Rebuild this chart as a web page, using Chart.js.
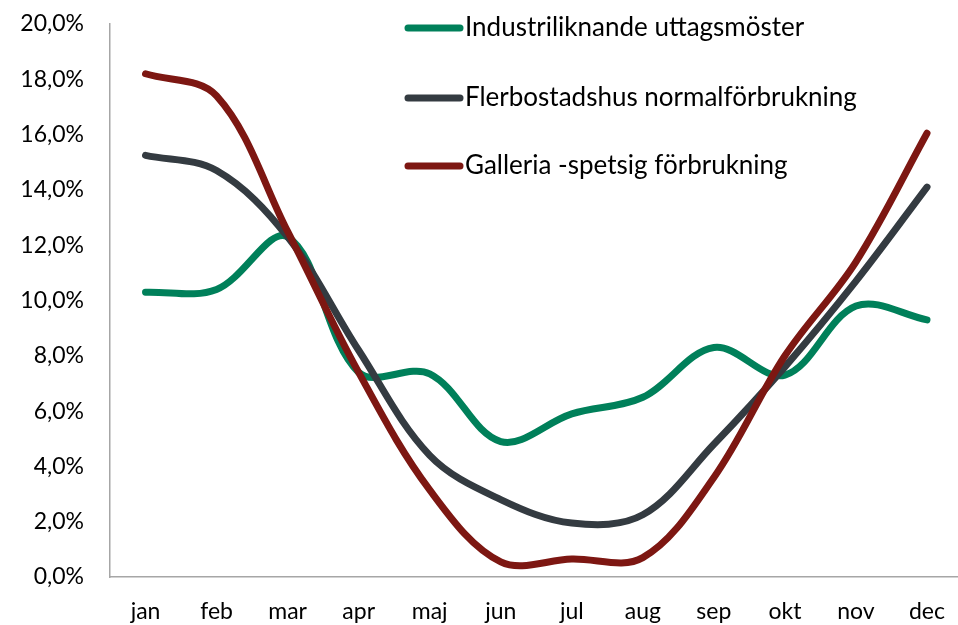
<!DOCTYPE html>
<html>
<head>
<meta charset="utf-8">
<script src="https://cdn.jsdelivr.net/npm/chart.js@4"></script>
<style>
    body { margin: 0; background: #fff; overflow: hidden; }
    #wrap { width: 966px; height: 625px; }
</style>
</head>
<body>
<div id="wrap"><canvas id="chart"></canvas></div>
<script>
const months = ['jan', 'feb', 'mar', 'apr', 'maj', 'jun', 'jul', 'aug', 'sep', 'okt', 'nov', 'dec'];
const industri = [10.3, 10.4, 12.3, 7.4, 7.35, 4.9, 5.9, 6.5, 8.3, 7.3, 9.8, 9.3];
const flerbostad = [15.25, 14.7, 12.3, 8.2, 4.4, 2.8, 1.95, 2.25, 4.8, 7.6, 10.7, 14.1];
const galleria = [18.2, 17.4, 12.5, 7.4, 3.15, 0.55, 0.65, 0.7, 3.6, 8.0, 11.4, 16.05];
const seriesNames = ['Industriliknande uttagsmöster', 'Flerbostadshus normalförbrukning', 'Galleria -spetsig förbrukning'];
const colors = ['#00805a', '#343b41', '#7d1712'];

const FONT = 'Lato, "Open Sans", sans-serif';

// legend drawn in the upper right like the original
const sideLegend = {
    id: 'sideLegend',
    afterDraw(c) {
        const ctx = c.ctx;
        const rows = [28, 98, 166];
        ctx.save();
        ctx.font = '26px ' + FONT;
        ctx.textBaseline = 'middle';
        ctx.fillStyle = '#000';
        ctx.lineCap = 'round';
        ctx.lineWidth = 7;
        seriesNames.forEach((name, i) => {
            ctx.strokeStyle = colors[i];
            ctx.beginPath();
            ctx.moveTo(408, rows[i]);
            ctx.lineTo(460, rows[i]);
            ctx.stroke();
            ctx.fillText(name, 465, rows[i]);
        });
        ctx.restore();
    }
};

function makeSet(label, data, i) {
    return {
        label: label,
        data: data,
        borderColor: colors[i],
        backgroundColor: colors[i],
        borderWidth: 7,
        borderCapStyle: 'round',
        pointRadius: 0,
        tension: 0.35,
        fill: false,
        order: 2 - i
    };
}

new Chart(document.getElementById('chart'), {
    type: 'line',
    data: {
        labels: months,
        datasets: [
            makeSet(seriesNames[0], industri, 0),
            makeSet(seriesNames[1], flerbostad, 1),
            makeSet(seriesNames[2], galleria, 2)
        ]
    },
    options: {
        responsive: true,
        maintainAspectRatio: false,
        animation: false,
        layout: { autoPadding: false, padding: 0 },
        plugins: {
            legend: { display: false },
            tooltip: { enabled: false }
        },
        scales: {
            x: {
                offset: true,
                grid: { display: false, drawTicks: false },
                border: { color: '#a6a6a6', width: 1.5 },
                ticks: { color: '#000', font: { family: FONT, size: 23 }, padding: 21, maxRotation: 0 },
                afterFit(s) { s.height = 48; }
            },
            y: {
                min: 0,
                max: 20,
                grid: { display: false, drawTicks: false },
                border: { color: '#a6a6a6', width: 1.5 },
                ticks: {
                    stepSize: 2,
                    color: '#000',
                    font: { family: FONT, size: 23 },
                    padding: 26,
                    callback: v => v.toFixed(1).replace('.', ',') + '%'
                },
                afterFit(s) {
                    s.width = 110;
                    s.paddingTop = 24;
                }
            }
        }
    },
    plugins: [sideLegend]
});
</script>
</body>
</html>
